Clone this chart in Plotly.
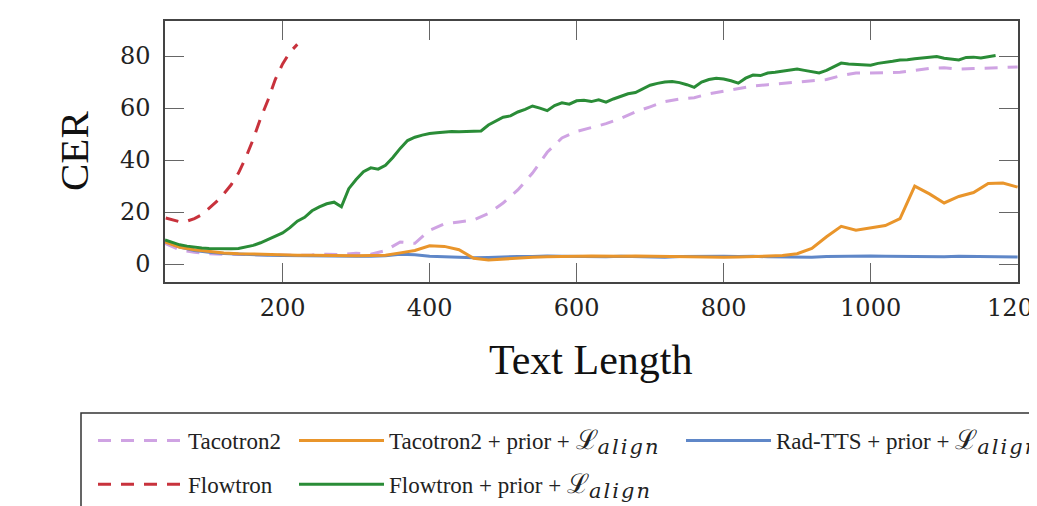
import plotly.graph_objects as go

# ---- data ----
X = list(range(40, 1201, 20))

tacotron2 = [8, 5.5, 4.5, 4, 3.8, 3.7, 3.6, 3.5, 3.4, 3.4, 3.5, 3.8, 3.6, 4.2, 3.8, 5.2, 8.5, 8, 13, 15.5,
             16.2, 17, 19.5, 23.5, 28.5, 35, 43, 48.5, 51, 52.5, 54, 56, 58.5, 60.5, 62.5, 63.5, 64, 65.5, 66.5, 67.5,
             68.5, 69, 69.5, 70, 70.3, 71, 72.5, 73.5, 73.5, 73.6, 73.8, 74.5, 75.3, 75.5, 75, 75.2, 75.5, 75.6, 75.8]

tacotron2_prior = [8.5, 6.5, 5.5, 4.8, 4.3, 4.0, 3.8, 3.6, 3.5, 3.4, 3.4, 3.3, 3.3, 3.2, 3.3, 3.4, 4.3, 5.2, 7.0, 6.8,
                   5.5, 2.2, 1.6, 2.0, 2.3, 2.6, 2.8, 3.0, 3.0, 3.1, 3.0, 3.0, 3.1, 3.0, 3.0, 2.8, 2.6, 2.5, 2.6, 2.7,
                   2.9, 3.0, 3.3, 4.0, 6.0, 10.5, 14.5, 13.0, 14.0, 14.8, 17.5, 30.0, 27.0, 23.5, 26.0, 27.5, 31.0, 31.2, 29.6]

radtts_prior = [8.8, 6.5, 5.2, 4.5, 4.1, 3.8, 3.6, 3.4, 3.3, 3.2, 3.1, 3.0, 3.0, 3.0, 3.0, 3.2, 3.8, 3.6, 3.0, 2.8,
                2.6, 2.4, 2.5, 2.8, 2.9, 2.9, 3.1, 3.0, 2.9, 3.0, 2.8, 3.0, 2.9, 2.8, 2.6, 2.9, 3.0, 3.1, 3.0, 2.9,
                3.0, 2.8, 2.7, 2.8, 2.6, 2.9, 3.0, 3.0, 3.1, 3.0, 2.9, 2.8, 2.9, 2.8, 3.0, 2.9, 2.8, 2.8, 2.7]

flowtron_prior_x = list(range(40, 1171, 10))
flowtron_prior = [9.3, 8.2, 7.4, 6.9, 6.5, 6.2, 6.0, 5.9, 5.8, 5.9, 6.0, 6.5, 7.2, 8.2, 9.4, 10.5, 12.0, 14.0, 16.5, 18.0,
                  20.5, 22.0, 23.2, 23.8, 22.0, 29.0, 32.5, 35.5, 37.0, 36.5, 38.0, 41.0, 44.5, 47.5, 48.8, 49.6, 50.2, 50.5, 50.8, 51.0,
                  50.9, 51.0, 51.0, 51.2, 53.5, 55.0, 56.5, 57.0, 58.5, 59.5, 60.8, 60.0, 59.0, 61.0, 62.0, 61.5, 62.8, 63.0, 62.5, 63.2,
                  62.3, 63.5, 64.5, 65.5, 66.0, 67.5, 68.8, 69.5, 70.0, 70.2, 69.8, 69.0, 68.0, 70.0, 71.0, 71.5, 71.2, 70.5, 69.6, 71.5,
                  72.7, 72.5, 73.5, 73.8, 74.2, 74.8, 75.0, 74.5, 74.0, 73.5, 74.5, 76.0, 77.3, 77.0, 76.8, 76.5, 76.5, 77.2, 77.5, 78.0,
                  78.5, 78.6, 79.0, 79.3, 79.6, 79.8, 79.2, 78.8, 78.5, 79.5, 79.6, 79.3, 79.8, 80.2]

flowtron_x = [41, 50, 60, 70, 80, 90, 100, 110, 120, 130, 140, 150, 160, 170, 180, 190, 200, 210, 220]
flowtron = [17.7, 17, 16.3, 16.5, 17.5, 19, 21.5, 24, 27, 30.5, 35, 41, 48, 56, 63, 71, 77, 81.5, 84.5]

x_ticks = [200, 400, 600, 800, 1000, 1200]
y_ticks = [0, 20, 40, 60, 80]

LAV = "#CFA3E3"
RED = "#C8323C"
ORA = "#E9952B"
GRN = "#2A8C37"
BLU = "#5F87C8"

L = ("<span style='font-size:27px'>ℒ</span><sub>"
     "<span style='font-family:DejaVu Serif;font-size:21px;font-style:italic;letter-spacing:2px'>align</span></sub>")

fig = go.Figure()
fig.add_trace(go.Scatter(x=X, y=tacotron2, mode="lines", name="Tacotron2",
                         line=dict(color=LAV, width=3, dash="13px,10px"),
                         legend="legend", legendgroup="a", legendrank=1))
fig.add_trace(go.Scatter(x=X, y=radtts_prior, mode="lines", name="Rad-TTS + prior + " + L,
                         line=dict(color=BLU, width=3),
                         legend="legend3", legendgroup="e", legendrank=1))
fig.add_trace(go.Scatter(x=X, y=tacotron2_prior, mode="lines", name="Tacotron2 + prior + " + L,
                         line=dict(color=ORA, width=3),
                         legend="legend2", legendgroup="c", legendrank=1))
fig.add_trace(go.Scatter(x=flowtron_x, y=flowtron, mode="lines", name="Flowtron",
                         line=dict(color=RED, width=3, dash="13px,10px"),
                         legend="legend", legendgroup="b", legendrank=2))
fig.add_trace(go.Scatter(x=flowtron_prior_x, y=flowtron_prior, mode="lines", name="Flowtron + prior + " + L,
                         line=dict(color=GRN, width=3),
                         legend="legend2", legendgroup="d", legendrank=2))

tickfont = dict(family="DejaVu Serif", size=24, color="#222")
axcommon = dict(showline=True, linecolor="#444", linewidth=1.5, mirror="ticks",
                ticks="inside", ticklen=19, tickwidth=1.3, tickcolor="#666",
                showgrid=False, zeroline=False, tickfont=tickfont)

fig.update_xaxes(range=[40, 1200.5], tickvals=x_ticks, ticktext=[str(v) for v in x_ticks],
                 ticklabelstandoff=3, ticklabeloverflow="allow", **axcommon)
fig.update_yaxes(range=[-6.9, 93.5], tickvals=y_ticks, ticktext=[str(v) for v in y_ticks],
                 ticklabelstandoff=8, **axcommon)

# page body adds an 8px offset: figure occupies 8..1037 x 8..506
W, H = 1029, 498
OFF = 8
PL, PR, PT, PB = 165, 1018, 21, 282   # plot area in window pixels


def cx(px):
    return (px - OFF) / W


def cy(py):
    return 1 - (py - OFF) / H


legfont = dict(family="Liberation Serif", size=23, color="#222")
legcommon = dict(orientation="v", xref="container", yref="container", xanchor="left", yanchor="top",
                 font=legfont, bgcolor="rgba(0,0,0,0)", borderwidth=0, itemwidth=85,
                 tracegroupgap=11, itemclick=False, itemdoubleclick=False)

pw, ph = PR - PL, PB - PT
fig.update_layout(
    width=W, height=H,
    margin=dict(l=PL - OFF, r=OFF + W - PR, t=PT - OFF, b=OFF + H - PB, autoexpand=False),
    paper_bgcolor="white", plot_bgcolor="white",
    legend=dict(x=cx(93), y=cy(419), **legcommon),
    legend2=dict(x=cx(294), y=cy(419), **legcommon),
    legend3=dict(x=cx(681), y=cy(419), **legcommon),
    shapes=[dict(type="rect", xref="paper", yref="paper",
                 x0=(81 - PL) / pw, x1=(1060 - PL) / pw,
                 y0=(PB - 413) / ph, y1=(PB - 540) / ph,
                 line=dict(color="#333", width=1.5), fillcolor="rgba(0,0,0,0)", layer="below")],
    annotations=[
        dict(text="CER", xref="paper", yref="paper", x=(74 - PL) / pw, y=(PB - 151) / ph,
             textangle=-90, showarrow=False, xanchor="center", yanchor="middle",
             font=dict(family="Liberation Serif", size=41, color="#111")),
        dict(text="Text Length", xref="paper", yref="paper", x=(591 - PL) / pw, y=(PB - 360) / ph,
             showarrow=False, xanchor="center", yanchor="middle",
             font=dict(family="Liberation Serif", size=42, color="#111")),
    ],
)

fig.write_html("out.html")
